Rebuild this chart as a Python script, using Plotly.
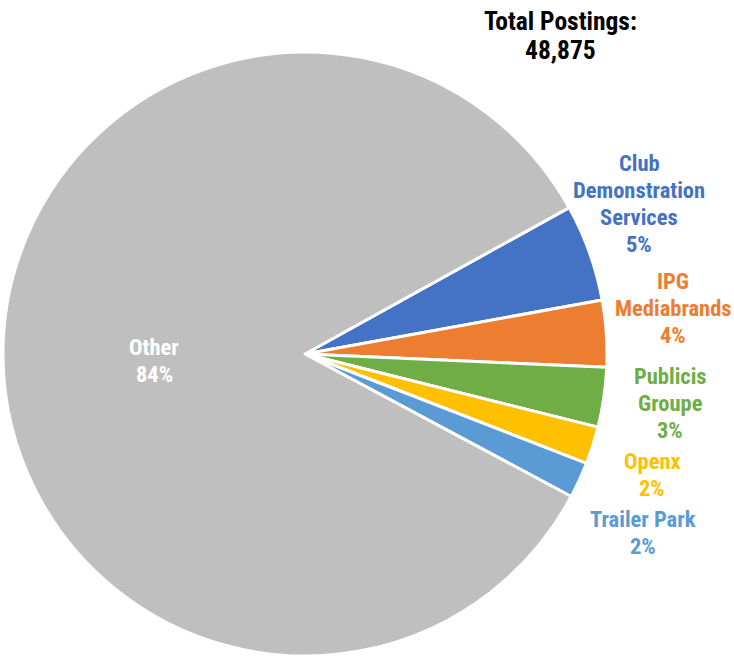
import plotly.graph_objects as go

labels = ["Club Demonstration Services", "IPG Mediabrands", "Publicis Groupe",
          "Openx", "Trailer Park", "Other"]
label_lines = [["Club", "Demonstration", "Services"], ["IPG", "Mediabrands"],
               ["Publicis", "Groupe"], ["Openx"], ["Trailer Park"], ["Other"]]
values = [2540, 1740, 1560, 980, 940, 41115]
colors = ["#4472C4", "#ED7D31", "#70AD47", "#FFC000", "#5B9BD5", "#BFBFBF"]
total_postings = 48875

W, H = 734, 656
FONT = "Roboto Condensed, Arial Narrow, Liberation Sans Narrow, Liberation Sans, Arial, sans-serif"

# label anchor positions in pixels (center x, first-line middle y)
label_pos = [(639, 163), (673, 281), (670, 376), (652, 461), (643, 519), (154, 347)]
LINE = 27

fig = go.Figure(go.Pie(
    labels=labels,
    values=values,
    sort=False,
    direction="clockwise",
    rotation=61,
    marker=dict(colors=colors, line=dict(color="white", width=3)),
    textinfo="none",
    hoverinfo="label+value+percent",
    showlegend=False,
    domain=dict(x=[3 / W, 607 / W], y=[0, 604 / H]),
))

tot = sum(values)
annotations = []
for i, (lines, v) in enumerate(zip(label_lines, values)):
    pct = round(100 * v / tot)
    px, py = label_pos[i]
    color = "white" if labels[i] == "Other" else colors[i]
    for j, line in enumerate(lines + [f"{pct}%"]):
        annotations.append(dict(
            x=px / W, y=1 - (py + j * LINE) / H, xref="paper", yref="paper",
            xanchor="center", yanchor="middle", showarrow=False,
            text=f"<b>{line}</b>",
            font=dict(family=FONT, size=22.5, color=color),
        ))

for j, line in enumerate(["Total Postings:", f"{total_postings:,}"]):
    annotations.append(dict(
        x=560 / W, y=1 - (21 + j * 29) / H, xref="paper", yref="paper",
        xanchor="center", yanchor="middle", showarrow=False,
        text=f"<b>{line}</b>",
        font=dict(family=FONT, size=25.5, color="black"),
    ))

fig.update_layout(
    width=W, height=H,
    margin=dict(l=0, r=0, t=0, b=0),
    paper_bgcolor="white",
    plot_bgcolor="white",
    annotations=annotations,
)

fig.write_html("out.html", config={"displayModeBar": False},
               post_script="document.body.style.margin='0';")
